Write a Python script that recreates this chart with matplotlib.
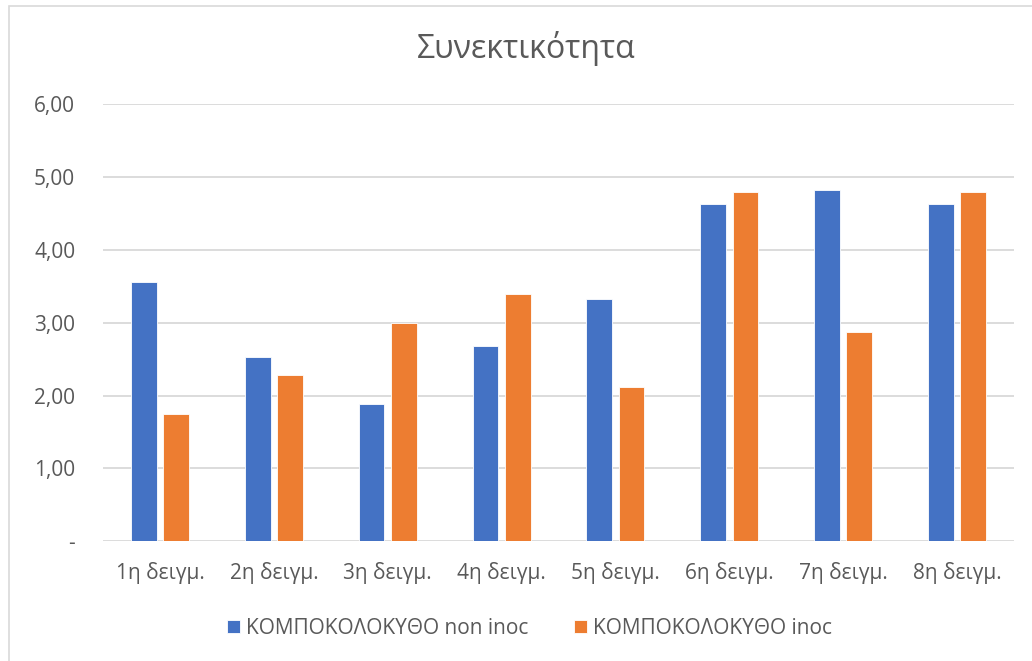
import numpy as np
import matplotlib
matplotlib.use("Agg")
import matplotlib.pyplot as plt
from matplotlib.patches import Rectangle
from matplotlib.ticker import FuncFormatter

categories = ["1η δειγμ.", "2η δειγμ.", "3η δειγμ.", "4η δειγμ.",
              "5η δειγμ.", "6η δειγμ.", "7η δειγμ.", "8η δειγμ."]
non_inoc = [3.56, 2.53, 1.89, 2.68, 3.33, 4.63, 4.83, 4.63]
inoc = [1.75, 2.28, 3.00, 3.40, 2.12, 4.80, 2.87, 4.80]
labels = ["ΚΟΜΠΟΚΟΛΟΚΥΘΟ non inoc", "ΚΟΜΠΟΚΟΛΟΚΥΘΟ inoc"]
title = "Συνεκτικότητα"

plt.rcParams["font.family"] = ["Open Sans", "DejaVu Sans"]
text_color = "#595959"

fig = plt.figure(figsize=(10.32, 6.61), dpi=100)
ax = fig.add_axes([103 / 1032, 1 - 541.3 / 661, 911 / 1032, (541.3 - 104.3) / 661])

x = np.arange(len(categories))
w = 0.226
off = 0.142
ax.bar(x - off, non_inoc, w, color="#4472C4", label=labels[0], zorder=3,
       edgecolor="white", linewidth=0.6)
ax.bar(x + off, inoc, w, color="#ED7D31", label=labels[1], zorder=3,
       edgecolor="white", linewidth=0.6)

ax.set_xlim(-0.5, len(categories) - 0.5)
ax.set_ylim(0, 6)
ax.set_yticks(np.arange(0, 7, 1))
ax.yaxis.set_major_formatter(FuncFormatter(
    lambda v, p: "-" if v == 0 else f"{v:.2f}".replace(".", ",")))
ax.set_xticks(x)
ax.set_xticklabels(categories)
ax.grid(axis="y", color="#D9D9D9", linewidth=1.3, zorder=0)
for s in ax.spines.values():
    s.set_visible(False)
ax.tick_params(axis="both", length=0, labelsize=15, colors=text_color)
ax.tick_params(axis="y", pad=20)
ax.tick_params(axis="x", pad=15)
for t in ax.get_yticklabels():
    t.set_horizontalalignment("right")

fig.text(0.51, 1 - 49 / 661, title, ha="center", va="center",
         fontsize=23, color=text_color)

fig.legend(loc="center", bbox_to_anchor=(0.513, 1 - 628 / 661), ncol=2,
           frameon=False, fontsize=15, handlelength=0.6, handleheight=0.6,
           handletextpad=0.3, columnspacing=2.2, labelcolor=text_color)

fig.patches.append(Rectangle((9 / 1032, -0.1), 1.2, 1.1 - 5.5 / 661,
                             transform=fig.transFigure, fill=False,
                             edgecolor="#D9D9D9", linewidth=1.2))

fig.savefig("out.png", dpi=100)
